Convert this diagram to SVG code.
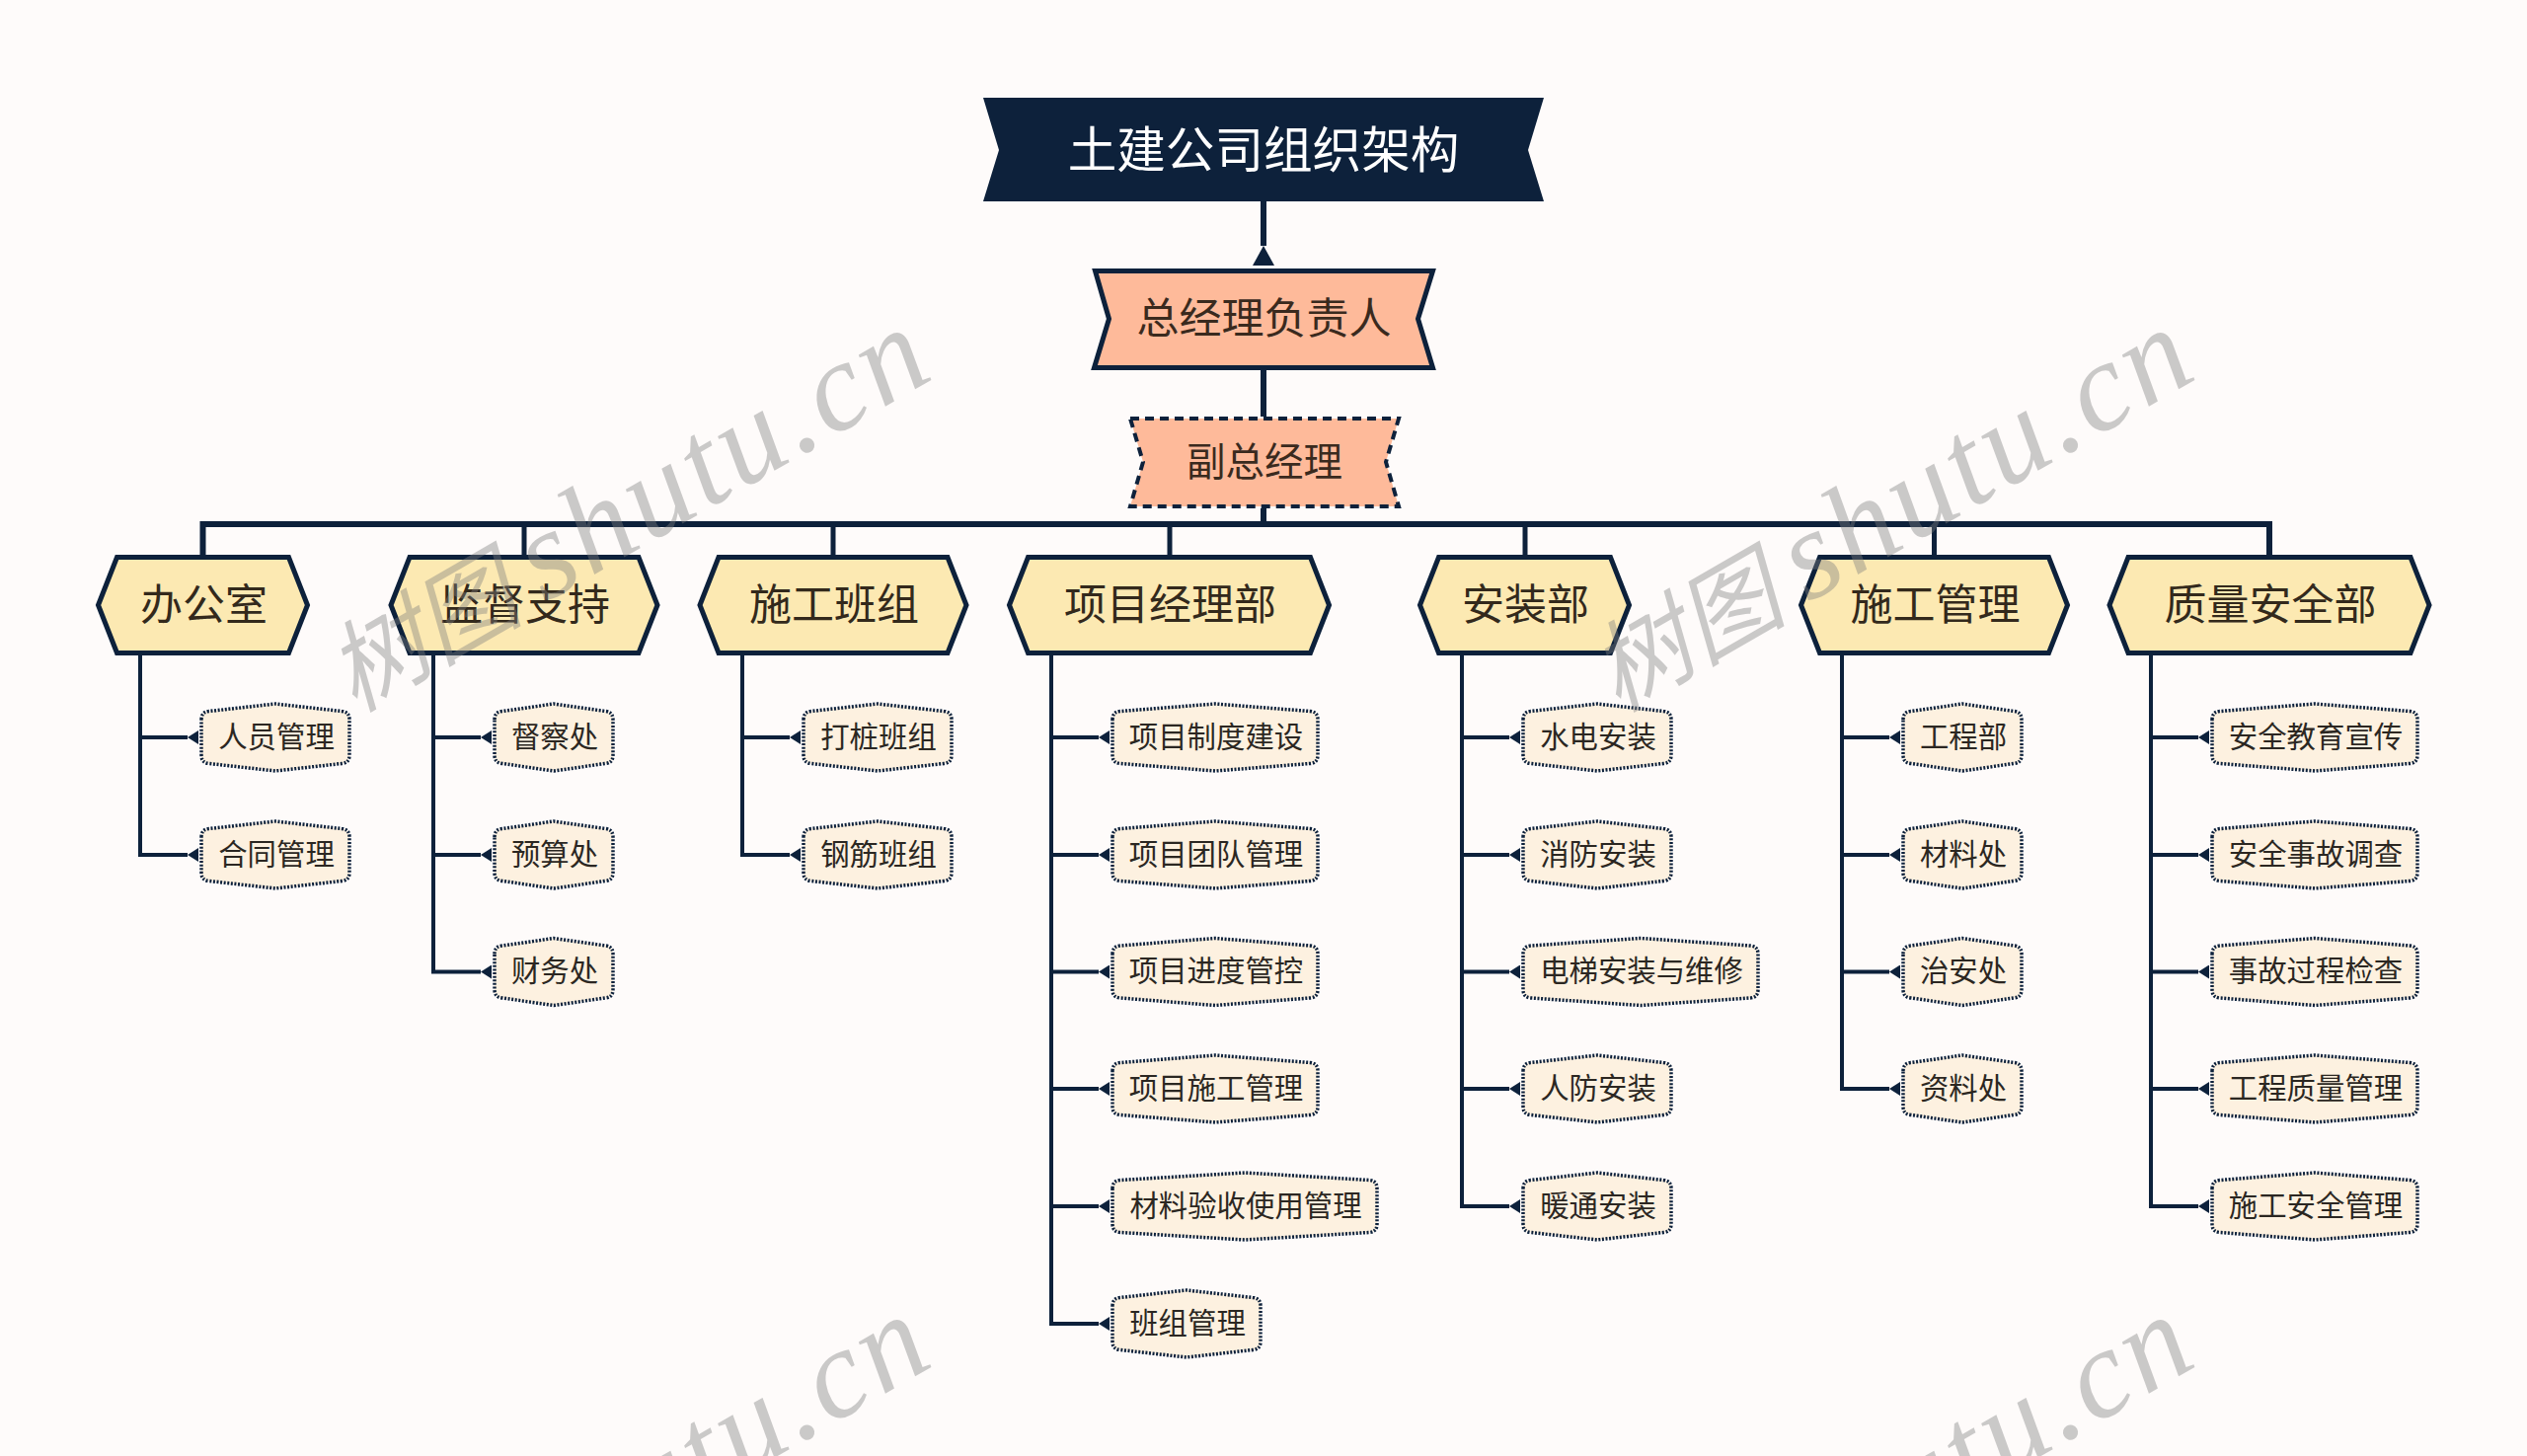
<svg xmlns="http://www.w3.org/2000/svg" width="2560" height="1475" viewBox="0 0 2560 1475">
<style>
text{font-family:"Noto Sans CJK SC","Liberation Sans",sans-serif;text-anchor:middle}
.k{fill:none;stroke:#0d213b;stroke-width:4}
.b{fill:none;stroke:#0d213b;stroke-width:6}
.d{fill:none;stroke:#0d213b;stroke-width:5}
.ch{fill:none;stroke:#0d213b;stroke-width:4;marker-end:url(#a)}
.l1{fill:#fce9b2;stroke:#0d213b;stroke-width:5}
.c{fill:#fdf1e0;stroke:#0d213b;stroke-width:3.500;stroke-dasharray:2 1.600}
.tl1{font-size:43px;fill:#33291c;transform:translate(1px,0)}
.tc{font-size:29.400px;fill:#2b2722;transform:translate(1.500px,-1px)}
.wm{font-family:"Liberation Serif","Noto Sans CJK SC",serif;font-style:italic;font-size:128px;letter-spacing:4px;fill:#7f7f7f;opacity:.4;text-anchor:end}
.wm .z{font-family:"Noto Sans CJK SC",serif;font-size:100px;letter-spacing:0}
</style>
<defs>
<marker id="a" markerUnits="userSpaceOnUse" markerWidth="11" markerHeight="14" refX="0" refY="7" orient="auto"><path d="M0 7L11 0V14z" fill="#0d213b"/></marker>
<marker id="t" markerUnits="userSpaceOnUse" markerWidth="20" markerHeight="22" refX="0" refY="11" orient="auto"><path d="M0 11L20 0V22z" fill="#0d213b"/></marker>
<path id="h3" class="l1" d="M1 0L20-48.500H194L213 0 194 48.500H20z"/>
<path id="h4" class="l1" d="M1 0L20-48.500H252L271 0 252 48.500H20z"/>
<path id="h5" class="l1" d="M1 0L20-48.500H306L325 0 306 48.500H20z"/>
<path id="c3" class="c" d="M1-18q0-8 8-8.500l52-7.500 52 7.500q8 .5 8 8.500v36q0 8-8 8.500l-52 7.500-52-7.500q-8-.5-8-8.500z"/>
<path id="c4" class="c" d="M1-18q0-8 8-8.500l67-7.500 67 7.500q8 .5 8 8.500v36q0 8-8 8.500l-67 7.500-67-7.500q-8-.5-8-8.500z"/>
<path id="c6" class="c" d="M1-18q0-8 8-8.500l96-7.500 96 7.500q8 .5 8 8.500v36q0 8-8 8.500l-96 7.500-96-7.500q-8-.5-8-8.500z"/>
<path id="c7" class="c" d="M1-18q0-8 8-8.500l111-7.500 111 7.500q8 .5 8 8.500v36q0 8-8 8.500l-111 7.500-111-7.500q-8-.5-8-8.500z"/>
<path id="c8" class="c" d="M1-18q0-8 8-8.500l126-7.500 126 7.500q8 .5 8 8.500v36q0 8-8 8.500l-126 7.500-126-7.500q-8-.5-8-8.500z"/>
</defs>
<rect width="2560" height="1475" fill="#fefbfa"/>
<g id="connectors">
<path class="b" d="M1280 204V249" marker-end="url(#t)"/>
<path class="b" d="M1280 375V422M1280 515V531"/>
<path class="b" d="M205.500 563V531H2299V563"/>
<path class="d" d="M531 531V563M844 531V563M1185 531V563M1545 531V563M1959.500 531V563"/>
<path class="k" d="M142 663V866M439 663V985M752 663V866M1065 663V1341M1481 663V1222M1866 663V1103M2179 663V1222"/>
<path class="ch" d="M142 747H190"/><path class="ch" d="M140 866H190"/>
<path class="ch" d="M439 747H487"/><path class="ch" d="M439 866H487"/><path class="ch" d="M437 984.500H487"/>
<path class="ch" d="M752 747H800"/><path class="ch" d="M750 866H800"/>
<path class="ch" d="M1065 747H1113"/><path class="ch" d="M1065 866H1113"/><path class="ch" d="M1065 984.500H1113"/><path class="ch" d="M1065 1103H1113"/><path class="ch" d="M1065 1222H1113"/><path class="ch" d="M1063 1341H1113"/>
<path class="ch" d="M1481 747H1529"/><path class="ch" d="M1481 866H1529"/><path class="ch" d="M1481 984.500H1529"/><path class="ch" d="M1481 1103H1529"/><path class="ch" d="M1479 1222H1529"/>
<path class="ch" d="M1866 747H1914"/><path class="ch" d="M1866 866H1914"/><path class="ch" d="M1866 984.500H1914"/><path class="ch" d="M1864 1103H1914"/>
<path class="ch" d="M2179 747H2227"/><path class="ch" d="M2179 866H2227"/><path class="ch" d="M2179 984.500H2227"/><path class="ch" d="M2179 1103H2227"/><path class="ch" d="M2177 1222H2227"/>
</g>
<g id="title"><path d="M996 99H1564L1548 152L1564 204H996L1012 152Z" fill="#0d213b"/><text x="1280" y="170" font-size="49.600" fill="#fff">土建公司组织架构</text></g>
<g id="gm"><path d="M1109.500 274.500H1451.500L1436.500 323L1451.500 372.500H1108.500L1123.500 323Z" fill="#feba9a" stroke="#0d213b" stroke-width="5"/><text x="1280.500" y="338" font-size="43" fill="#3a2a1e">总经理负责人</text></g>
<g id="dgm"><path d="M1145 424H1417L1404 468L1417 513H1145L1158 468Z" fill="#feba9a" stroke="#0d213b" stroke-width="4" stroke-dasharray="9 6"/><text x="1281" y="482" font-size="39.500" fill="#3a2a1e">副总经理</text></g>
<g id="n1"><use href="#h3" x="98.500" y="613"/><text class="tl1" x="205.500" y="628">办公室</text></g>
<g id="n2"><use href="#h4" x="395" y="613"/><text class="tl1" x="531" y="628">监督支持</text></g>
<g id="n3"><use href="#h4" x="708" y="613"/><text class="tl1" x="844" y="628">施工班组</text></g>
<g id="n4"><use href="#h5" x="1021.500" y="613"/><text class="tl1" x="1184.500" y="628">项目经理部</text></g>
<g id="n5"><use href="#h3" x="1437.500" y="613"/><text class="tl1" x="1544.500" y="628">安装部</text></g>
<g id="n6"><use href="#h4" x="1823.500" y="613"/><text class="tl1" x="1959.500" y="628">施工管理</text></g>
<g id="n7"><use href="#h5" x="2136" y="613"/><text class="tl1" x="2299" y="628">质量安全部</text></g>
<g id="n1a"><use href="#c4" x="203" y="747"/><text class="tc" x="278.500" y="757.500">人员管理</text></g>
<g id="n1b"><use href="#c4" x="203" y="866"/><text class="tc" x="278.500" y="876.500">合同管理</text></g>
<g id="n2a"><use href="#c3" x="500" y="747"/><text class="tc" x="560.500" y="757.500">督察处</text></g>
<g id="n2b"><use href="#c3" x="500" y="866"/><text class="tc" x="560.500" y="876.500">预算处</text></g>
<g id="n2c"><use href="#c3" x="500" y="984.500"/><text class="tc" x="560.500" y="995">财务处</text></g>
<g id="n3a"><use href="#c4" x="813" y="747"/><text class="tc" x="888.500" y="757.500">打桩班组</text></g>
<g id="n3b"><use href="#c4" x="813" y="866"/><text class="tc" x="888.500" y="876.500">钢筋班组</text></g>
<g id="n4a"><use href="#c6" x="1126" y="747"/><text class="tc" x="1230.500" y="757.500">项目制度建设</text></g>
<g id="n4b"><use href="#c6" x="1126" y="866"/><text class="tc" x="1230.500" y="876.500">项目团队管理</text></g>
<g id="n4c"><use href="#c6" x="1126" y="984.500"/><text class="tc" x="1230.500" y="995">项目进度管控</text></g>
<g id="n4d"><use href="#c6" x="1126" y="1103"/><text class="tc" x="1230.500" y="1113.500">项目施工管理</text></g>
<g id="n4e"><use href="#c8" x="1126" y="1222"/><text class="tc" x="1260.500" y="1232.500">材料验收使用管理</text></g>
<g id="n4f"><use href="#c4" x="1126" y="1341"/><text class="tc" x="1201.500" y="1351.500">班组管理</text></g>
<g id="n5a"><use href="#c4" x="1542" y="747"/><text class="tc" x="1617.500" y="757.500">水电安装</text></g>
<g id="n5b"><use href="#c4" x="1542" y="866"/><text class="tc" x="1617.500" y="876.500">消防安装</text></g>
<g id="n5c"><use href="#c7" x="1542" y="984.500"/><text class="tc" x="1661.500" y="995">电梯安装与维修</text></g>
<g id="n5d"><use href="#c4" x="1542" y="1103"/><text class="tc" x="1617.500" y="1113.500">人防安装</text></g>
<g id="n5e"><use href="#c4" x="1542" y="1222"/><text class="tc" x="1617.500" y="1232.500">暖通安装</text></g>
<g id="n6a"><use href="#c3" x="1927" y="747"/><text class="tc" x="1987.500" y="757.500">工程部</text></g>
<g id="n6b"><use href="#c3" x="1927" y="866"/><text class="tc" x="1987.500" y="876.500">材料处</text></g>
<g id="n6c"><use href="#c3" x="1927" y="984.500"/><text class="tc" x="1987.500" y="995">治安处</text></g>
<g id="n6d"><use href="#c3" x="1927" y="1103"/><text class="tc" x="1987.500" y="1113.500">资料处</text></g>
<g id="n7a"><use href="#c6" x="2240" y="747"/><text class="tc" x="2344.500" y="757.500">安全教育宣传</text></g>
<g id="n7b"><use href="#c6" x="2240" y="866"/><text class="tc" x="2344.500" y="876.500">安全事故调查</text></g>
<g id="n7c"><use href="#c6" x="2240" y="984.500"/><text class="tc" x="2344.500" y="995">事故过程检查</text></g>
<g id="n7d"><use href="#c6" x="2240" y="1103"/><text class="tc" x="2344.500" y="1113.500">工程质量管理</text></g>
<g id="n7e"><use href="#c6" x="2240" y="1222"/><text class="tc" x="2344.500" y="1232.500">施工安全管理</text></g>
<g id="watermark">
<text class="wm" transform="translate(952 380) rotate(-30)"><tspan class="z">树图 </tspan>shutu.cn</text>
<text class="wm" transform="translate(2232 380) rotate(-30)"><tspan class="z">树图 </tspan>shutu.cn</text>
<text class="wm" transform="translate(952 1380) rotate(-30)">utu.cn</text>
<text class="wm" transform="translate(2232 1380) rotate(-30)">utu.cn</text>
</g>
</svg>
